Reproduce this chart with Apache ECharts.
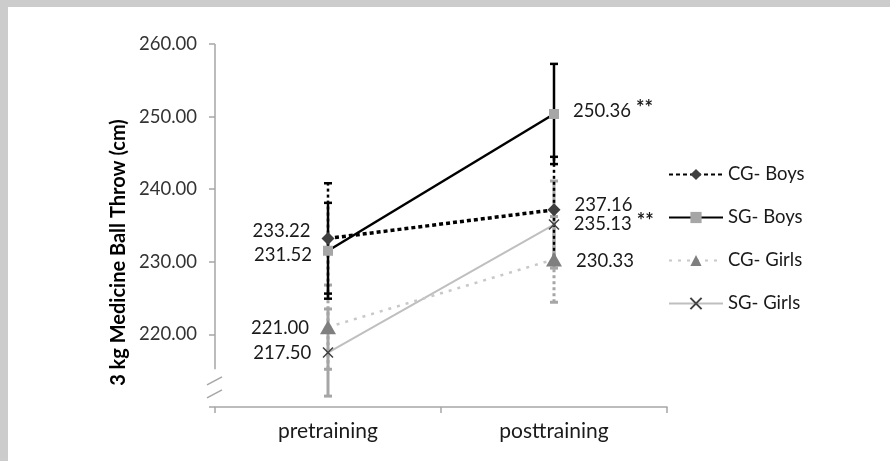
<!DOCTYPE html>
<html>
<head>
<meta charset="utf-8">
<script src="https://cdn.jsdelivr.net/npm/echarts@6/dist/echarts.min.js"></script>
<style>
html,body{margin:0;padding:0;background:#cccccc;width:890px;height:461px;overflow:hidden;}
#c{position:absolute;left:8px;top:7px;width:882px;height:454px;background:#fff;}
</style>
</head>
<body>
<div id="c"></div>
<script>
// ---- data ----
var categories = ['pretraining', 'posttraining'];
var seriesNames = ['CG- Boys', 'SG- Boys', 'CG- Girls', 'SG- Girls'];
var cgBoys = [233.22, 237.16];
var sgBoys = [231.52, 250.36];
var cgGirls = [221.00, 230.33];
var sgGirls = [217.50, 235.13];
var cgBoysSD = [7.6, 7.3];
var sgBoysSD = [6.6, 6.9];
var cgGirlsSD = [5.8, 5.9];
var sgGirlsSD = [6.0, 6.0];
var cgBoysSig = ['', ''];
var sgBoysSig = ['', '**'];
var cgGirlsSig = ['', ''];
var sgGirlsSig = ['', '**'];
var yMin = 210, yMax = 260, yInterval = 10;
var yAxisTitle = '3 kg Medicine Ball Throw (cm)';

var FONT = 'Lato, "Open Sans", sans-serif';
var chart = echarts.init(document.getElementById('c'), null, {renderer: 'canvas'});

// label offsets (layout only)
var labelOffsets = {
  'CG- Boys': [[0, -7], [0, -5]],
  'SG- Boys': [[0, 4], [0, -3]],
  'CG- Girls': [[0, 1], [0, 2]],
  'SG- Girls': [[0, 0], [0, -1]]
};

function buildData(name, vals, sig) {
  return vals.map(function (v, i) {
    return {
      value: v,
      label: {
        show: true,
        position: i === 0 ? 'left' : 'right',
        distance: i === 0 ? 11 : 14,
        offset: labelOffsets[name][i],
        formatter: sig[i] ? '{v|' + v.toFixed(2) + '}{s|' + sig[i] + '}' : '{v|' + v.toFixed(2) + '}',
        rich: {
          v: {fontFamily: FONT, fontSize: 18.5, color: '#1a1a1a'},
          s: {fontFamily: FONT, fontSize: 20, fontWeight: 'bold', color: '#1a1a1a', padding: [0, 0, 4, 5]}
        }
      }
    };
  });
}

function errSeries(name, means, sds, lineType, color, width, z) {
  return {
    type: 'custom',
    name: name + ' SD',
    silent: true,
    z: z,
    data: means.map(function (m, i) { return [i, m - sds[i], m + sds[i]]; }),
    renderItem: function (params, api) {
      var x = api.value(0);
      var lo = api.coord([x, api.value(1)]);
      var hi = api.coord([x, api.value(2)]);
      var hw = 4;
      var s = {stroke: color, lineWidth: width, lineDash: lineType};
      var c = {stroke: color, lineWidth: width};
      return {
        type: 'group',
        children: [
          {type: 'line', shape: {x1: lo[0], y1: lo[1], x2: hi[0], y2: hi[1]}, style: s},
          {type: 'line', shape: {x1: hi[0] - hw, y1: hi[1], x2: hi[0] + hw, y2: hi[1]}, style: c},
          {type: 'line', shape: {x1: lo[0] - hw, y1: lo[1], x2: lo[0] + hw, y2: lo[1]}, style: c}
        ]
      };
    }
  };
}

var option = {
  animation: false,
  grid: {left: 207, top: 37, width: 452, height: 363, containLabel: false},
  legend: {
    orient: 'vertical',
    left: 655,
    top: 153,
    itemWidth: 54,
    itemHeight: 14,
    itemGap: 24,
    data: seriesNames,
    textStyle: {fontFamily: FONT, fontSize: 18.5, color: '#1a1a1a'}
  },
  xAxis: {
    type: 'category',
    data: categories,
    boundaryGap: true,
    axisLine: {show: true, lineStyle: {color: '#a6a6a6', width: 1.5}},
    axisTick: {show: true, length: 6, lineStyle: {color: '#a6a6a6', width: 1.5}},
    axisLabel: {fontFamily: FONT, fontSize: 21, color: '#1a1a1a', margin: 14}
  },
  yAxis: {
    type: 'value',
    min: yMin,
    max: yMax,
    interval: yInterval,
    splitLine: {show: false},
    axisLine: {show: false},
    axisTick: {show: true, length: 6, lineStyle: {color: '#a6a6a6', width: 1.5}},
    axisLabel: {
      fontFamily: FONT, fontSize: 18.5, color: '#333', margin: 18,
      formatter: function (v) { return v === yMin ? '' : v.toFixed(2); }
    },
    name: yAxisTitle,
    nameLocation: 'middle',
    nameGap: 86,
    nameRotate: 90,
    nameTextStyle: {fontFamily: FONT, fontSize: 20, fontWeight: 'bold', color: '#000', padding: [0, 54, 0, 0]}
  },
  series: [
    errSeries('SG- Girls', sgGirls, sgGirlsSD, null, '#a6a6a6', 3, 1),
    errSeries('CG- Girls', cgGirls, cgGirlsSD, [3, 3], '#a6a6a6', 3, 1),
    errSeries('CG- Boys', cgBoys, cgBoysSD, [3, 3], '#000', 2.5, 2),
    errSeries('SG- Boys', sgBoys, sgBoysSD, null, '#000', 2.5, 2),
    {
      type: 'line', name: 'SG- Girls', z: 3,
      data: buildData('SG- Girls', sgGirls, sgGirlsSig),
      symbol: 'path://M0,0L10,10M10,0L0,10', symbolSize: 10,
      itemStyle: {color: '#404040', borderColor: '#404040', borderWidth: 1.5},
      lineStyle: {color: '#bfbfbf', width: 2}
    },
    {
      type: 'line', name: 'CG- Girls', z: 3,
      data: buildData('CG- Girls', cgGirls, cgGirlsSig),
      symbol: 'triangle', symbolSize: [16, 14],
      itemStyle: {color: '#7f7f7f'},
      lineStyle: {color: '#c8c8c8', width: 2.5, type: [3, 6]}
    },
    {
      type: 'line', name: 'CG- Boys', z: 4,
      data: buildData('CG- Boys', cgBoys, cgBoysSig),
      symbol: 'diamond', symbolSize: 13,
      itemStyle: {color: '#404040'},
      lineStyle: {color: '#000', width: 3.5, type: [4, 3]}
    },
    {
      type: 'line', name: 'SG- Boys', z: 4,
      data: buildData('SG- Boys', sgBoys, sgBoysSig),
      symbol: 'rect', symbolSize: 10,
      itemStyle: {color: '#a6a6a6'},
      lineStyle: {color: '#000', width: 2.5}
    }
  ]
};
chart.setOption(option);

// y-axis line with break marks, positioned through the axis scale
var gx = 207;
var yTop = chart.convertToPixel({yAxisIndex: 0}, yMax);
var yBreakEnd = chart.convertToPixel({yAxisIndex: 0}, 215.2);
var yB1 = chart.convertToPixel({yAxisIndex: 0}, 213.6);
var yB2 = chart.convertToPixel({yAxisIndex: 0}, 211.8);
var ax = {stroke: '#a6a6a6', lineWidth: 1.5};
chart.setOption({
  graphic: [
    {type: 'line', shape: {x1: gx, y1: yTop, x2: gx, y2: yBreakEnd}, style: ax, silent: true},
    {type: 'line', shape: {x1: gx - 8, y1: yB1 + 4, x2: gx + 7, y2: yB1 - 4}, style: ax, silent: true},
    {type: 'line', shape: {x1: gx - 8, y1: yB2 + 4, x2: gx + 7, y2: yB2 - 4}, style: ax, silent: true}
  ]
});
</script>
</body>
</html>
